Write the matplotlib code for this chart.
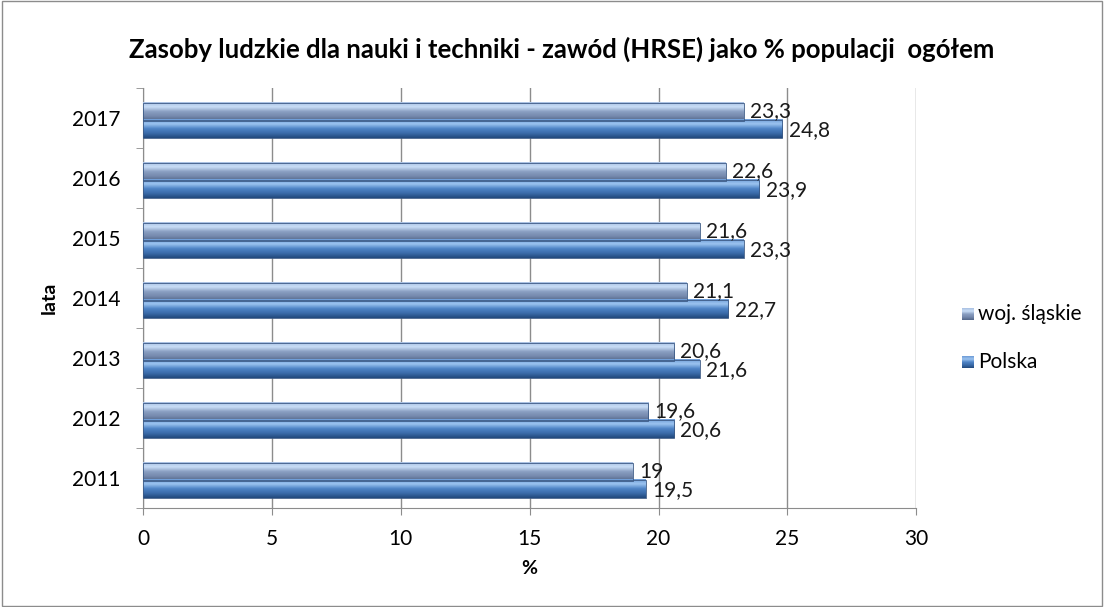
import numpy as np
import matplotlib
matplotlib.use("Agg")
import matplotlib.pyplot as plt
from matplotlib.colors import LinearSegmentedColormap
from matplotlib.patches import Rectangle

plt.rcParams['font.family'] = ['Lato', 'DejaVu Sans']

# dane
lata = ['2011', '2012', '2013', '2014', '2015', '2016', '2017']
slaskie = [19, 19.6, 20.6, 21.1, 21.6, 22.6, 23.3]
polska = [19.5, 20.6, 21.6, 22.7, 23.3, 23.9, 24.8]
x_ticks = [0, 5, 10, 15, 20, 25, 30]

fig = plt.figure(figsize=(11.04, 6.07), dpi=100)
ax = fig.add_axes([0.1295, 0.163, 0.7005, 0.692])

# ramka wokol calego wykresu
fig.patches.append(Rectangle((0.002, 0.002), 0.996, 0.996, transform=fig.transFigure,
                             fill=False, edgecolor='#8c8c8c', linewidth=1))

y = np.arange(len(lata))
h = 0.30
bars_s = ax.barh(y + 0.108, slaskie, height=h, color='#7f95b8', zorder=3)
bars_p = ax.barh(y - 0.19, polska, height=h, color='#4f81bd', zorder=3)

# gradient "3D" na slupkach
cmap_s = LinearSegmentedColormap.from_list('s', ['#526689', '#7589ad', '#8a9fc2', '#c9def7', '#a9c0e2'])
cmap_p = LinearSegmentedColormap.from_list('p', ['#22497c', '#3a6ba9', '#4f84c6', '#9cc4f0', '#6d9bd6'])
grad = np.linspace(0, 1, 64).reshape(-1, 1)
for bars, cm in [(bars_s, cmap_s), (bars_p, cmap_p)]:
    for b in bars:
        x0, y0, w, hh = b.get_x(), b.get_y(), b.get_width(), b.get_height()
        ax.imshow(grad, cmap=cm, aspect='auto', origin='lower',
                  extent=[x0, x0 + w, y0, y0 + hh], zorder=4)
        ax.add_patch(Rectangle((x0, y0), w, hh, fill=False, edgecolor='#3c5a85',
                               linewidth=0.6, zorder=5))

# etykiety wartosci
def fmt(v):
    return ('%g' % v).replace('.', ',')

for b, v in zip(bars_s, slaskie):
    ax.text(v + 0.25, b.get_y() + b.get_height() * 0.5, fmt(v), fontsize=15,
            va='center', ha='left', color='#1a1a1a', zorder=6)
for b, v in zip(bars_p, polska):
    ax.text(v + 0.25, b.get_y() + b.get_height() * 0.45, fmt(v), fontsize=15,
            va='center', ha='left', color='#1a1a1a', zorder=6)

ax.set_xlim(0, 30)
ax.set_ylim(-0.5, len(lata) - 0.5)
ax.set_xticks(x_ticks)
ax.set_xticklabels([str(t) for t in x_ticks], fontsize=15)
ax.set_yticks(y)
ax.set_yticklabels(lata, fontsize=15)
ax.set_yticks(np.arange(-0.5, len(lata)), minor=True)
ax.tick_params(axis='y', which='major', length=0, pad=16)
ax.tick_params(axis='y', which='minor', length=5, color='#8c8c8c')
ax.tick_params(axis='x', length=5, color='#8c8c8c', pad=10)

ax.grid(axis='x', color='#8c8c8c', linewidth=1, zorder=0)
for s in ['top', 'right']:
    ax.spines[s].set_visible(False)
ax.spines['left'].set_color('#8c8c8c')
ax.spines['bottom'].set_color('#8c8c8c')

ax.set_xlabel('%', fontsize=14, fontweight='bold', labelpad=8)
ax.set_ylabel('lata', fontsize=14, fontweight='bold')
ax.yaxis.set_label_coords(-0.11, 0.5)

fig.text(0.509, 0.918, 'Zasoby ludzkie dla nauki i techniki - zawód (HRSE) jako % populacji  ogółem',
         ha='center', va='center', fontsize=18.5, fontweight='bold')

# legenda
leg_ax = fig.add_axes([0, 0, 1, 1], facecolor='none')
leg_ax.set_axis_off()
for yy, lab, cm in [(314, 'woj. śląskie', cmap_s), (362, 'Polska', cmap_p)]:
    leg_ax.imshow(grad, cmap=cm, aspect='auto', origin='lower',
                  extent=[962, 974, yy + 6, yy - 6])
    leg_ax.text(978, yy, lab, fontsize=15, va='center', ha='left')
leg_ax.set_xlim(0, 1104)
leg_ax.set_ylim(607, 0)

fig.savefig('out.png', dpi=100)
